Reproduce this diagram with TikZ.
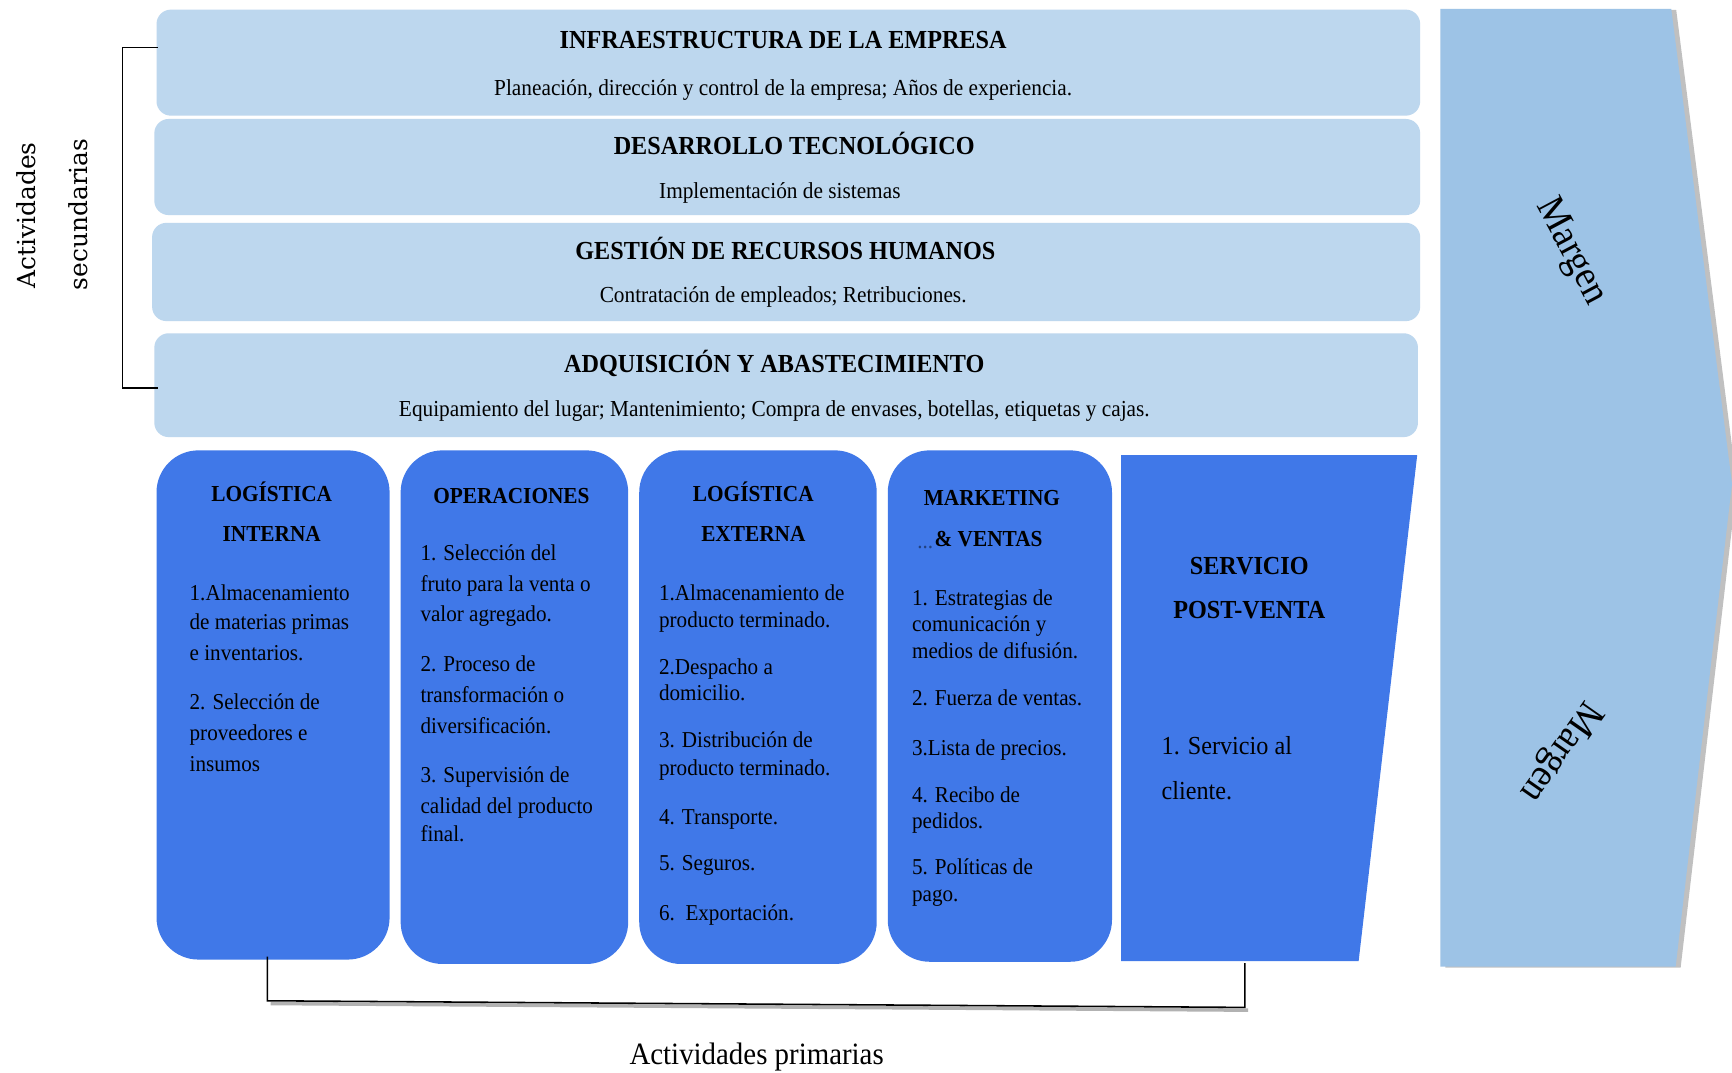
\documentclass[tikz,border=0pt]{standalone}
\usepackage{fontspec}
\setmainfont{Liberation Serif}[FakeStretch=0.93]
\newfontfamily\sidefont{DejaVu Serif}
\usetikzlibrary{shadows,calc}
\definecolor{secblue}{RGB}{189,215,238}
\definecolor{primblue}{RGB}{64,120,232}
\definecolor{marginblue}{RGB}{157,195,230}

\begin{document}
\begin{tikzpicture}[x=0.1mm,y=-0.1mm,
  secbox/.style={fill=secblue, draw=none, rounded corners=1.3mm, inner sep=0pt, anchor=north west},
  primbox/.style={fill=primblue, draw=none, rounded corners=3.8mm, inner sep=0pt, anchor=north west},
  sectitle/.style={font=\bfseries\fontsize{6.7}{8}\selectfont, inner sep=0pt, anchor=mid},
  secsub/.style={font=\fontsize{5.9}{7}\selectfont, inner sep=0pt, anchor=mid},
  primtitle/.style={font=\bfseries\fontsize{5.9}{7}\selectfont, inner sep=0pt, anchor=mid},
  item/.style={font=\fontsize{5.85}{7}\selectfont, inner sep=0pt, anchor=mid west},
  bigtitle/.style={font=\bfseries\fontsize{6.7}{8}\selectfont, inner sep=0pt, anchor=mid},
  bigitem/.style={font=\fontsize{6.7}{8}\selectfont, inner sep=0pt, anchor=mid west},
  margen/.style={font=\fontsize{10.2}{12}\selectfont, inner sep=0pt, anchor=mid},
  sidetext/.style={font=\sidefont\fontsize{6.4}{8}\selectfont, inner sep=0pt, anchor=mid, rotate=90},
  bracket/.style={draw=black, line width=0.4pt},
]
\useasboundingbox (0,0) rectangle (1568,971);
\fill[white] (0,0) rectangle (1568,971);

% margin arrow with its shadow
\fill[marginblue, drop shadow={shadow xshift=0.45mm, shadow yshift=-0.1mm, opacity=0.35, fill=black!70}]
  (1304,8) -- (1513,8) -- (1568,438) -- (1517,875) -- (1304,875) -- cycle;
\node[margen, rotate=-62] (m1) at (1422,228) {Margen};
\node[margen, rotate=235] (m2) at (1412,680) {Margen};

% support activities
\node[secbox, minimum width=114.4mm, minimum height=9.6mm] (s1) at (141,8) {};
\node[secbox, minimum width=114.6mm, minimum height=8.7mm] (s2) at (139,107) {};
\node[secbox, minimum width=114.8mm, minimum height=8.9mm] (s3) at (137,201) {};
\node[secbox, minimum width=114.4mm, minimum height=9.4mm] (s4) at (139,301) {};

\node[sectitle] (t1) at (709,36) {INFRAESTRUCTURA DE LA EMPRESA};
\node[secsub] (u1) at (709,78) {Planeación, dirección y control de la empresa; Años de experiencia.};
\node[sectitle] (t2) at (719,132) {DESARROLLO TECNOLÓGICO};
\node[secsub] (u2) at (706,172) {Implementación de sistemas};
\node[sectitle] (t3) at (711,227) {GESTIÓN DE RECURSOS HUMANOS};
\node[secsub] (u3) at (709,266) {Contratación de empleados; Retribuciones.};
\node[sectitle] (t4) at (701,329) {ADQUISICIÓN Y ABASTECIMIENTO};
\node[secsub] (u4) at (701,369) {Equipamiento del lugar; Mantenimiento; Compra de envases, botellas, etiquetas y cajas.};

% primary activities
\node[primbox, minimum width=21.1mm, minimum height=46.1mm] (p1) at (141,407) {};
\node[primbox, minimum width=20.6mm, minimum height=46.5mm] (p2) at (362,407) {};
\node[primbox, minimum width=21.5mm, minimum height=46.5mm] (p3) at (578,407) {};
\node[primbox, minimum width=20.3mm, minimum height=46.3mm] (p4) at (803,407) {};
\coordinate (q1) at (1015,412);
\coordinate (q2) at (1283,412);
\coordinate (q3) at (1230,870);
\coordinate (q4) at (1015,870);
\fill[primblue] (q1) -- (q2) -- (q3) -- (q4) -- cycle;

\node[primtitle] (h1a) at (246,446) {LOGÍSTICA};
\node[primtitle] (h1b) at (246,482) {INTERNA};
\foreach \y/\t [count=\i] in {536/{1.Almacenamiento}, 562/{de materias primas}, 590/{e inventarios.},
  634/{2. Selección de}, 662/{proveedores e}, 690/{insumos}}
  \node[item] (a\i) at (171,\y) {\t};

\node[primtitle] (h2) at (463,448) {OPERACIONES};
\foreach \y/\t [count=\i] in {499/{1. Selección del}, 527/{fruto para la venta o}, 555/{valor agregado.},
  600/{2. Proceso de}, 628/{transformación o}, 656/{diversificación.},
  700/{3. Supervisión de}, 728/{calidad del producto}, 754/{final.}}
  \node[item] (b\i) at (380,\y) {\t};

\node[primtitle] (h3a) at (682,446) {LOGÍSTICA};
\node[primtitle] (h3b) at (682,482) {EXTERNA};
\foreach \y/\t [count=\i] in {536/{1.Almacenamiento de}, 560/{producto terminado.},
  603/{2.Despacho a}, 626/{domicilio.}, 669/{3. Distribución de}, 694/{producto terminado.},
  738/{4. Transporte.}, 780/{5. Seguros.}, 825/{6.\ \ Exportación.}}
  \node[item] (c\i) at (596,\y) {\t};

\node[primtitle] (h4a) at (898,450) {MARKETING};
\node[primtitle] (h4b) at (895,487) {\& VENTAS};
\node[item, anchor=mid east, text=primblue!55!black] (h4d) at (h4b.west) {...};
\foreach \y/\t [count=\i] in {540/{1. Estrategias de}, 564/{comunicación y}, 588/{medios de difusión.},
  631/{2. Fuerza de ventas.}, 676/{3.Lista de precios.}, 718/{4. Recibo de}, 742/{pedidos.},
  784/{5. Políticas de}, 808/{pago.}}
  \node[item] (d\i) at (825,\y) {\t};

\node[bigtitle] (h5a) at (1131,512) {SERVICIO};
\node[bigtitle] (h5b) at (1131,552) {POST-VENTA};
\node[bigitem] (e1) at (1051,675) {1. Servicio al};
\node[bigitem] (e2) at (1051,716) {cliente.};

% brackets
\coordinate (lb1) at (143,43);
\coordinate (lb2) at (111,43);
\coordinate (lb3) at (111,351);
\coordinate (lb4) at (143,351);
\draw[bracket] (lb1) -- (lb2) -- (lb3) -- (lb4);

\coordinate (bb1) at (242,866);
\coordinate (bb2) at (242,906);
\coordinate (bb3) at (1127,912);
\coordinate (bb4) at (1127,872);
\draw[black!30, line width=0.9pt] ($(bb2)+(3,2.5)$) -- ($(bb3)+(3,2.5)$);
\draw[bracket] (bb1) -- (bb2) -- (bb3) -- (bb4);

\node[sidetext] (v1) at (24,195) {Actividades};
\node[sidetext] (v2) at (71,194) {secundarias};
\node[font=\fontsize{8}{10}\selectfont, inner sep=0pt, anchor=mid] (prim) at (685,956) {Actividades primarias};
\end{tikzpicture}
\end{document}
